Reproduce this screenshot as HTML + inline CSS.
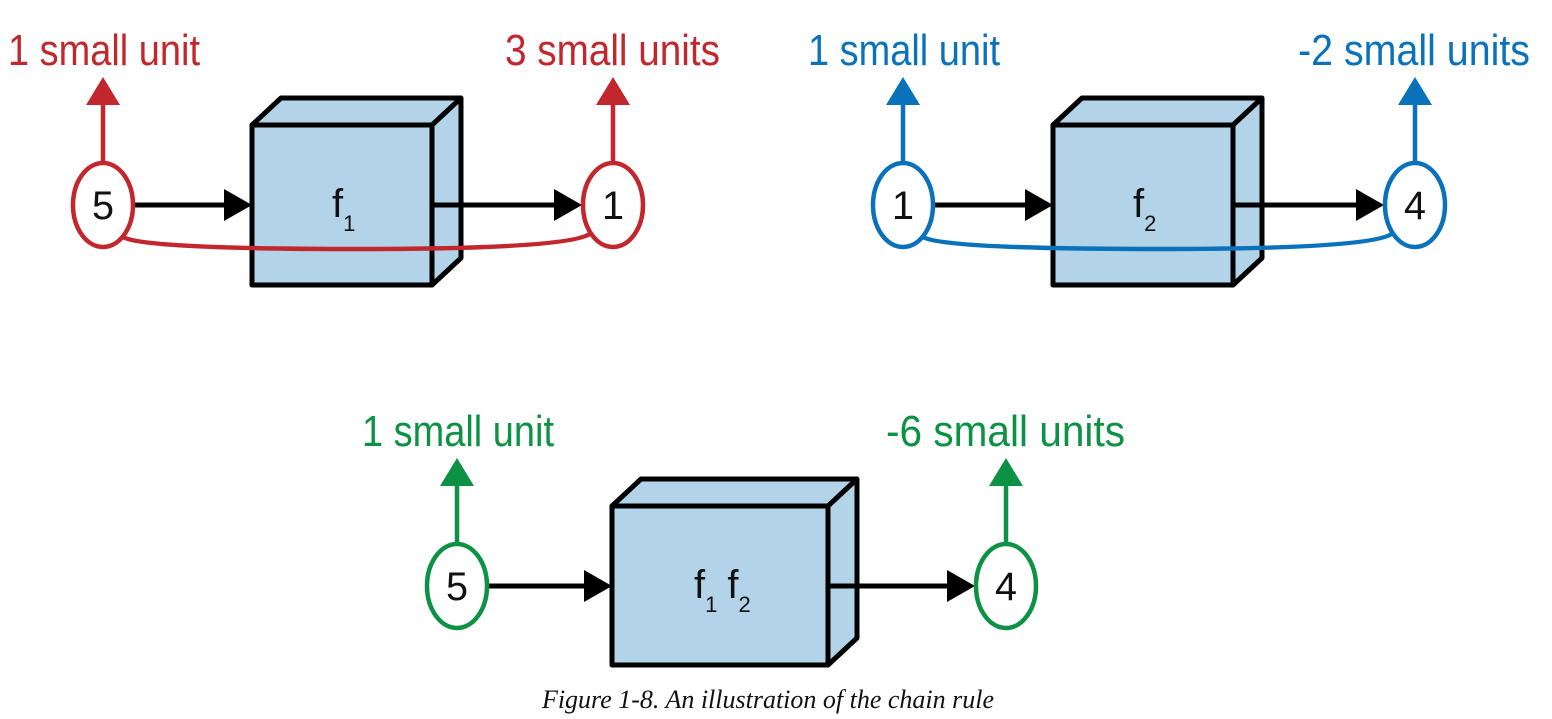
<!DOCTYPE html>
<html><head><meta charset="utf-8"><style>
html,body{margin:0;padding:0;background:#fff;width:1552px;height:719px;overflow:hidden}
.lbl{font-family:"Liberation Sans Narrow","Liberation Sans",sans-serif;font-size:44px}
.num{font-family:"Liberation Sans Narrow","Liberation Sans",sans-serif;font-size:40px;fill:#111}
.cap{font-family:"Liberation Serif",serif;font-style:italic;font-size:26px;fill:#111}
</style></head><body>
<svg width="1552" height="719" xmlns="http://www.w3.org/2000/svg">
<g id="root"></g>
<text class="cap" x="768" y="708" text-anchor="middle">Figure 1-8. An illustration of the chain rule</text>
</svg>
<script>
const NS='http://www.w3.org/2000/svg';
const root=document.getElementById('root');
function mk(tag,attrs,parent,text){const e=document.createElementNS(NS,tag);for(const k in attrs)e.setAttribute(k,attrs[k]);if(text!==undefined)e.textContent=text;(parent||root).appendChild(e);return e;}
function diagram(o){
  const g=mk('g',{});
  
  
  const c=o.color, cy=o.cy;
  const bx=o.bx0,bx1=o.bx1,by0=o.by0,by1=o.by1,d=29;
  mk('polygon',{points:`${bx},${by0} ${bx+d},${by0-27} ${bx1+d},${by0-27} ${bx1+d},${by1-27} ${bx1},${by1} ${bx1},${by0}`,fill:'#b3d4e8',stroke:'#000','stroke-width':5,'stroke-linejoin':'round'},g);
  mk('line',{x1:bx1,y1:by0,x2:bx1+d,y2:by0-27,stroke:'#000','stroke-width':5},g);
  const box=mk('rect',{x:bx,y:by0,width:bx1-bx,height:by1-by0,fill:'#b3d4e8',stroke:'#000','stroke-width':5,'stroke-linejoin':'round'},g);
  
  
  const ft=mk('text',{class:'num',x:(bx+bx1)/2-10+(o.fx||0),y:cy+12},g);
  
  
  o.fn.forEach((s,i)=>{
    if(i===0) mk('tspan',{},ft,'f'); else mk('tspan',{dx:10,dy:-14},ft,'f');
    mk('tspan',{dy:14,style:'font-size:22px'},ft,s);
  });
  if(o.curve) mk('path',{d:`M${o.c1+20},${cy+32} Q${o.c1+40},${cy+44} ${(o.c1+o.c2)/2},${cy+44} T${o.c2-22},${cy+28}`,fill:'none',stroke:c,'stroke-width':4.5},g);
  function harrow(x1,x2){mk('line',{x1:x1,y1:cy,x2:x2-26,y2:cy,stroke:'#000','stroke-width':5},g);mk('polygon',{points:`${x2},${cy} ${x2-28},${cy-16} ${x2-28},${cy+16}`,fill:'#000'},g);}
  harrow(o.c1+31,bx);
  harrow(bx1,o.c2-31);
  [[o.c1,o.v1,o.t1,o.t1x,'input'],[o.c2,o.v2,o.t2,o.t2x,'output']].forEach(([x,v,t,tx,nm])=>{
    mk('line',{x1:x,y1:cy-43,x2:x,y2:cy-100,stroke:c,'stroke-width':4.5},g);
    mk('polygon',{points:`${x},${cy-128} ${x-17},${cy-100} ${x+17},${cy-100}`,fill:c},g);
    const el=mk('ellipse',{cx:x,cy:cy,rx:30,ry:42,fill:'#fff',stroke:c,'stroke-width':4.5},g);
    
    
    mk('text',{class:'num',x:x,y:cy+14,'text-anchor':'middle',textLength:22,lengthAdjust:'spacingAndGlyphs'},g,v);
    const lt=mk('text',{class:'lbl',x:tx,y:cy-140,fill:c,textLength:t[1],lengthAdjust:'spacingAndGlyphs'},g,t[0]);
    
    
  });
}
diagram({name:'f1-diagram',color:'#c1272d',cy:205,c1:103,c2:613,bx0:252,bx1:432,by0:125,by1:285,fn:['1'],v1:'5',v2:'1',t1:['1 small unit',192],t1x:8,t2:['3 small units',215],t2x:505,curve:true});
diagram({name:'f2-diagram',color:'#0a72bb',cy:205,c1:903,c2:1415,bx0:1053,bx1:1233,by0:125,by1:285,fn:['2'],v1:'1',v2:'4',t1:['1 small unit',192],t1x:808,t2:['-2 small units',232],t2x:1298,curve:true});
diagram({name:'composite-diagram',color:'#0c9244',cy:586,c1:457,c2:1006,bx0:612,bx1:828,by0:506,by1:665,fn:['1','2'],fx:-16,v1:'5',v2:'4',t1:['1 small unit',192],t1x:362,t2:['-6 small units',239],t2x:886,curve:false});
</script>
</body></html>
